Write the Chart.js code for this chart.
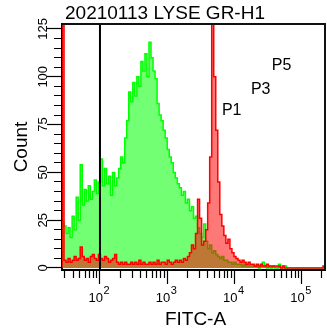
<!DOCTYPE html>
<html><head><meta charset="utf-8">
<script src="https://cdn.jsdelivr.net/npm/chart.js@4.4.1/dist/chart.umd.min.js"></script>
<style>html,body{margin:0;padding:0;background:#fff;}canvas{display:block;}</style>
</head><body>
<canvas id="c" width="327" height="335"></canvas>
<script>
const chartTitle = '20210113 LYSE GR-H1';
const xTitle = 'FITC-A';
const yTitle = 'Count';
// FITC-A axis range (log10 units) and histogram bins
const logMin = 1.4354, logMax = 5.346;
const greenCounts = [24,22,18,21,16,27,20,37,25,54,
 33,41,35,43,36,40,46,39,45,57,
 43,52,44,48,38,50,43,47,52,58,
 55,68,77,92,87,97,90,100,95,108,
 103,112,100,118,110,103,99,86,80,77,
 72,68,62,58,55,50,47,44,42,38,
 40,34,36,30,32,26,27,21,18,16,
 23,14,10,12,8,9,7,6,5,6,
 4,4,3,3,2,3,2,2,2,1,
 2,1,1,1,1,1,1,0,1,3,
 1,0,1,0,1,0,0,2,0,0,
 1,0,0,0,0,0,0,0,0,0,
 0,0,0,0,0,0,0,0,0,0];
const redCounts = [200,4,3,5,3,4,6,4,5,11,
 6,4,5,3,6,7,5,4,7,5,
 4,6,5,3,4,5,7,3,2,3,
 2,3,2,2,3,2,3,2,4,2,
 3,2,2,3,2,3,2,4,2,3,
 3,2,4,3,2,3,4,3,4,3,
 5,4,6,8,12,10,18,36,26,12,
 14,20,34,58,140,100,72,45,28,22,
 17,13,15,10,8,6,5,4,3,4,
 3,2,3,2,2,1,2,1,2,1,
 1,2,1,1,1,1,1,1,0,1,
 0,0,0,0,0,0,0,0,0,0,
 0,0,0,0,0,0,0,0,0,1];
const gateMarkerLog = 2;              // vertical marker at 10^2
const gateLabels = ['P1', 'P3', 'P5'];
const gateLabelLog = [3.813, 4.244, 4.556];
const gateLabelCount = [80, 91, 103.6];
const yMin = -1.05, yMax = 127.6;
const yMajorStep = 25, yMinorStep = 5, yTickMax = 125;
const xMajorExponents = [2, 3, 4, 5];
const xDecades = [1, 2, 3, 4, 5];

const FONT = '"Liberation Sans", Arial, Helvetica, sans-serif';

function toPoints(counts) {
  const w = (logMax - logMin) / counts.length;
  const pts = [{x: logMin, y: 0}];
  counts.forEach((v, i) => pts.push({x: logMin + i * w, y: v}));
  pts.push({x: logMax, y: counts[counts.length - 1]});
  return pts;
}
const xTickValues = [];
xDecades.forEach(d => { for (let m = 1; m <= 9; m++) { const v = d + Math.log10(m); if (v >= logMin && v <= logMax) xTickValues.push(v); } });
const yTickValues = [];
for (let v = 0; v <= yTickMax; v += yMinorStep) yTickValues.push(v);
const isInt = v => Math.abs(v - Math.round(v)) < 1e-6;

const decor = {
  id: 'decor',
  afterDatasetsDraw(chart) {
    const {ctx, chartArea: a, scales: {x, y}} = chart;
    ctx.save();
    ctx.strokeStyle = '#111'; ctx.lineWidth = 2;
    ctx.beginPath(); ctx.moveTo(a.left, a.top); ctx.lineTo(a.right, a.top); ctx.lineTo(a.right, a.bottom); ctx.stroke();
    ctx.fillStyle = '#000'; ctx.font = '16px ' + FONT; ctx.textAlign = 'left'; ctx.textBaseline = 'alphabetic';
    gateLabels.forEach((t, i) => ctx.fillText(t, x.getPixelForValue(gateLabelLog[i]), y.getPixelForValue(gateLabelCount[i])));
    ctx.restore();
  },
  afterDraw(chart) {
    const {ctx, chartArea: a, scales: {x}} = chart;
    ctx.save();
    ctx.fillStyle = '#000';
    ctx.font = '19px ' + FONT; ctx.textAlign = 'left'; ctx.textBaseline = 'alphabetic';
    ctx.fillText(chartTitle, 65, 18.5);
    ctx.textAlign = 'center';
    ctx.fillText(xTitle, (a.left + a.right) / 2 + 2, 325);
    ctx.save(); ctx.translate(27, (a.top + a.bottom) / 2); ctx.rotate(-Math.PI / 2); ctx.fillText(yTitle, 0, 0); ctx.restore();
    xMajorExponents.forEach(e => {
      const px = x.getPixelForValue(e);
      ctx.font = '13px ' + FONT; ctx.textAlign = 'right';
      ctx.fillText('10', px + 3, 302);
      ctx.font = '11px ' + FONT; ctx.textAlign = 'left';
      ctx.fillText(String(e), px + 3.5, 293.5);
    });
    ctx.restore();
  }
};

new Chart(document.getElementById('c'), {
  type: 'line',
  data: {
    datasets: [
      {data: [{x: gateMarkerLog, y: yMin - 5}, {x: gateMarkerLog, y: yMax + 5}], borderColor: '#000', borderWidth: 2, pointRadius: 0, fill: false},
      {data: toPoints(redCounts), stepped: 'before', borderColor: '#ff0000', borderWidth: 1.5, backgroundColor: 'rgba(255,0,0,0.53)', fill: 'origin', pointRadius: 0},
      {data: toPoints(greenCounts), stepped: 'before', borderColor: '#00ff00', borderWidth: 1.5, backgroundColor: 'rgba(0,255,0,0.55)', fill: 'origin', pointRadius: 0}
    ]
  },
  options: {
    responsive: false, animation: false, devicePixelRatio: 1,
    parsing: false, normalized: true,
    layout: {padding: {left: 0, right: 2, top: 24, bottom: 0}},
    plugins: {legend: {display: false}, tooltip: {enabled: false}, title: {display: false}},
    scales: {
      x: {
        type: 'linear', min: logMin, max: logMax,
        afterBuildTicks: s => { s.ticks = xTickValues.map(v => ({value: v})); },
        afterFit: s => { s.height = 65; },
        grid: {drawOnChartArea: false, drawTicks: true, tickLength: 14, tickColor: '#000', tickWidth: 1.2,
          tickBorderDash: c => (c.tick && isInt(c.tick.value)) ? [] : [7, 60]},
        border: {display: true, color: '#000', width: 2},
        ticks: {display: false}
      },
      y: {
        type: 'linear', min: yMin, max: yMax,
        afterBuildTicks: s => { s.ticks = yTickValues.map(v => ({value: v})); },
        afterFit: s => { s.width = 62; },
        grid: {drawOnChartArea: false, drawTicks: true, tickLength: 15, tickColor: '#000', tickWidth: 1.2,
          tickBorderDash: c => (c.tick && c.tick.value % yMajorStep === 0) ? [] : [0, 7, 8, 60]},
        border: {display: true, color: '#000', width: 2},
        ticks: {autoSkip: false, minRotation: 90, maxRotation: 90, crossAlign: 'center', padding: -7,
          color: '#000', font: {family: FONT, size: 13},
          callback: v => (v % yMajorStep === 0 ? String(v) : '')}
      }
    }
  },
  plugins: [decor]
});
</script>
</body></html>
